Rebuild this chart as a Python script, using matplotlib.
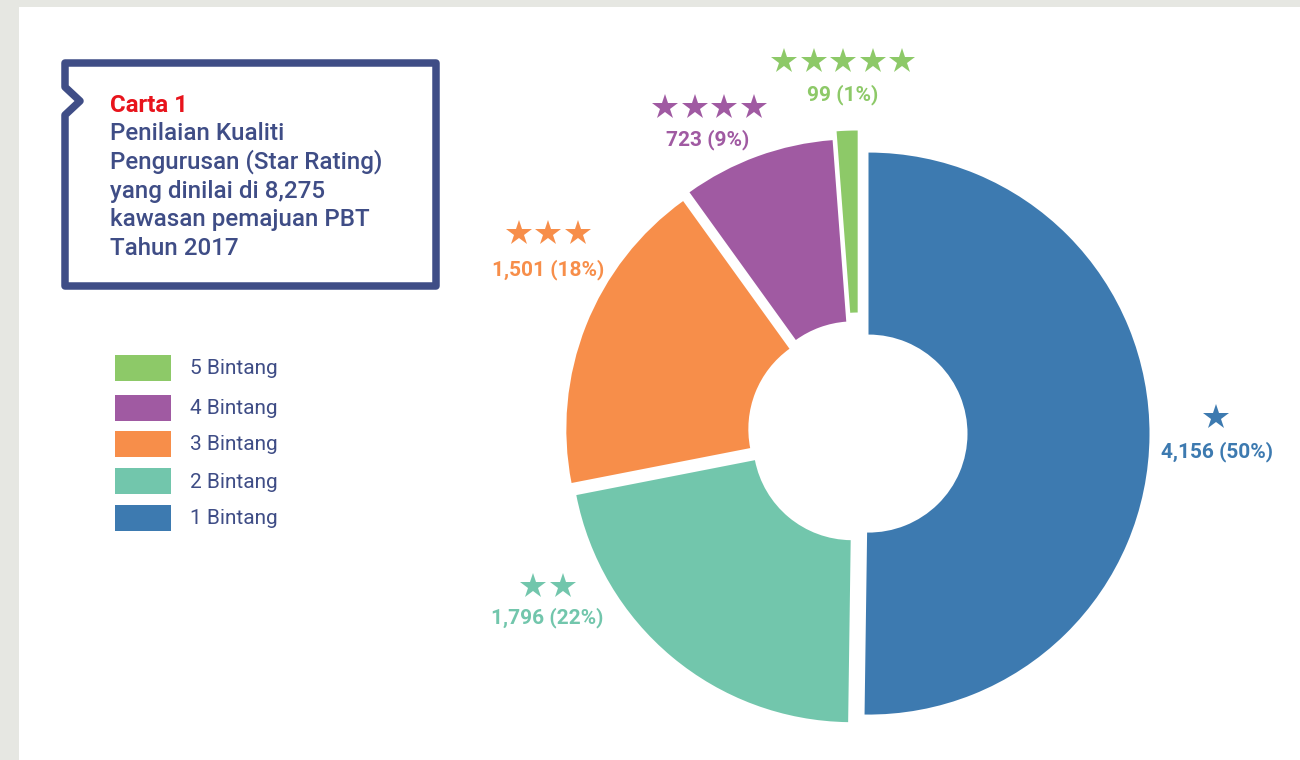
import matplotlib
matplotlib.use('Agg')
import matplotlib.pyplot as plt
from matplotlib.patches import Rectangle, Polygon

# ---------------- data ----------------
categories = ['1 Bintang', '2 Bintang', '3 Bintang', '4 Bintang', '5 Bintang']
ratings = [1, 2, 3, 4, 5]
counts = [4156, 1796, 1501, 723, 99]
value_labels = ['4,156 (50%)', '1,796 (22%)', '1,501 (18%)', '723 (9%)', '99 (1%)']
chart_no = 'Carta 1'
title_lines = ['Penilaian Kualiti', 'Pengurusan (Star Rating)', 'yang dinilai di 8,275',
               'kawasan pemajuan PBT', 'Tahun 2017']

# ---------------- style ----------------
colors = ['#3d7ab0', '#72c6ac', '#f78e4a', '#a05aa2', '#8dc968']
navy = '#3f4d86'
red = '#e8141c'
W, H = 1300, 760

plt.rcParams['font.family'] = ['Roboto', 'DejaVu Sans']

fig = plt.figure(figsize=(13, 7.6), dpi=100)
fig.patch.set_facecolor('#e6e7e2')
ax = fig.add_axes([0, 0, 1, 1])


def Y(y):
    return H - y


# white panel
ax.add_patch(Rectangle((19, 0), W - 19, H - 7, facecolor='white', edgecolor='none', zorder=0))

# donut
cx, cy = 858.5, Y(433.5)
R = 281
ring = 182
explode = [10, 10, 12, 14, 22]
ax.pie(counts, colors=colors, startangle=90, counterclock=False, radius=R,
       center=(cx, cy), explode=explode,
       wedgeprops=dict(width=ring, linewidth=0))

# value labels with stars (positions in image pixels)
star_pos = [(1216, 417), (548, 586), (548, 233), (709.5, 107), (843, 61)]
text_pos = [(1217, 452), (547, 618), (548, 270), (708, 140), (843, 95)]
star_gap = 29.5
for i in range(len(counts)):
    n = ratings[i]
    sx, sy = star_pos[i]
    xs = [sx + (k - (n - 1) / 2) * star_gap for k in range(n)]
    ax.plot(xs, [Y(sy)] * n, linestyle='none', marker='*', markersize=19,
            color=colors[i], markeredgewidth=0, zorder=5)
    tx, ty = text_pos[i]
    ax.text(tx, Y(ty), value_labels[i], color=colors[i], fontsize=15,
            fontweight='bold', ha='center', va='center', zorder=5)

# title box with notch
verts = [(65, 63), (436, 63), (436, 286), (65, 286), (65, 115), (80, 101), (65, 87)]
ax.add_patch(Polygon([(x, Y(y)) for x, y in verts], closed=True, facecolor='white',
                     edgecolor=navy, linewidth=5.4, joinstyle='round', zorder=3))
ax.text(110, Y(112), chart_no, color=red, fontsize=17.3, fontweight='bold',
        ha='left', va='baseline', zorder=4)
for j, line in enumerate(title_lines):
    ax.text(110, Y(140 + j * 28.8), line, color=navy, fontsize=17.4, fontweight='medium',
            ha='left', va='baseline', zorder=4)

# legend
leg_order = [4, 3, 2, 1, 0]
leg_top = [355, 395, 431, 468, 505]
for k, idx in enumerate(leg_order):
    ax.add_patch(Rectangle((115, Y(leg_top[k] + 26)), 56, 26, facecolor=colors[idx],
                           edgecolor='none', zorder=3))
    ax.text(190, Y(leg_top[k] + 14), categories[idx], color=navy, fontsize=15,
            ha='left', va='center', zorder=3)

ax.set_xlim(0, W)
ax.set_ylim(0, H)
ax.set_aspect('equal')
ax.set_axis_off()

fig.savefig('out.png', dpi=100, facecolor=fig.get_facecolor())
